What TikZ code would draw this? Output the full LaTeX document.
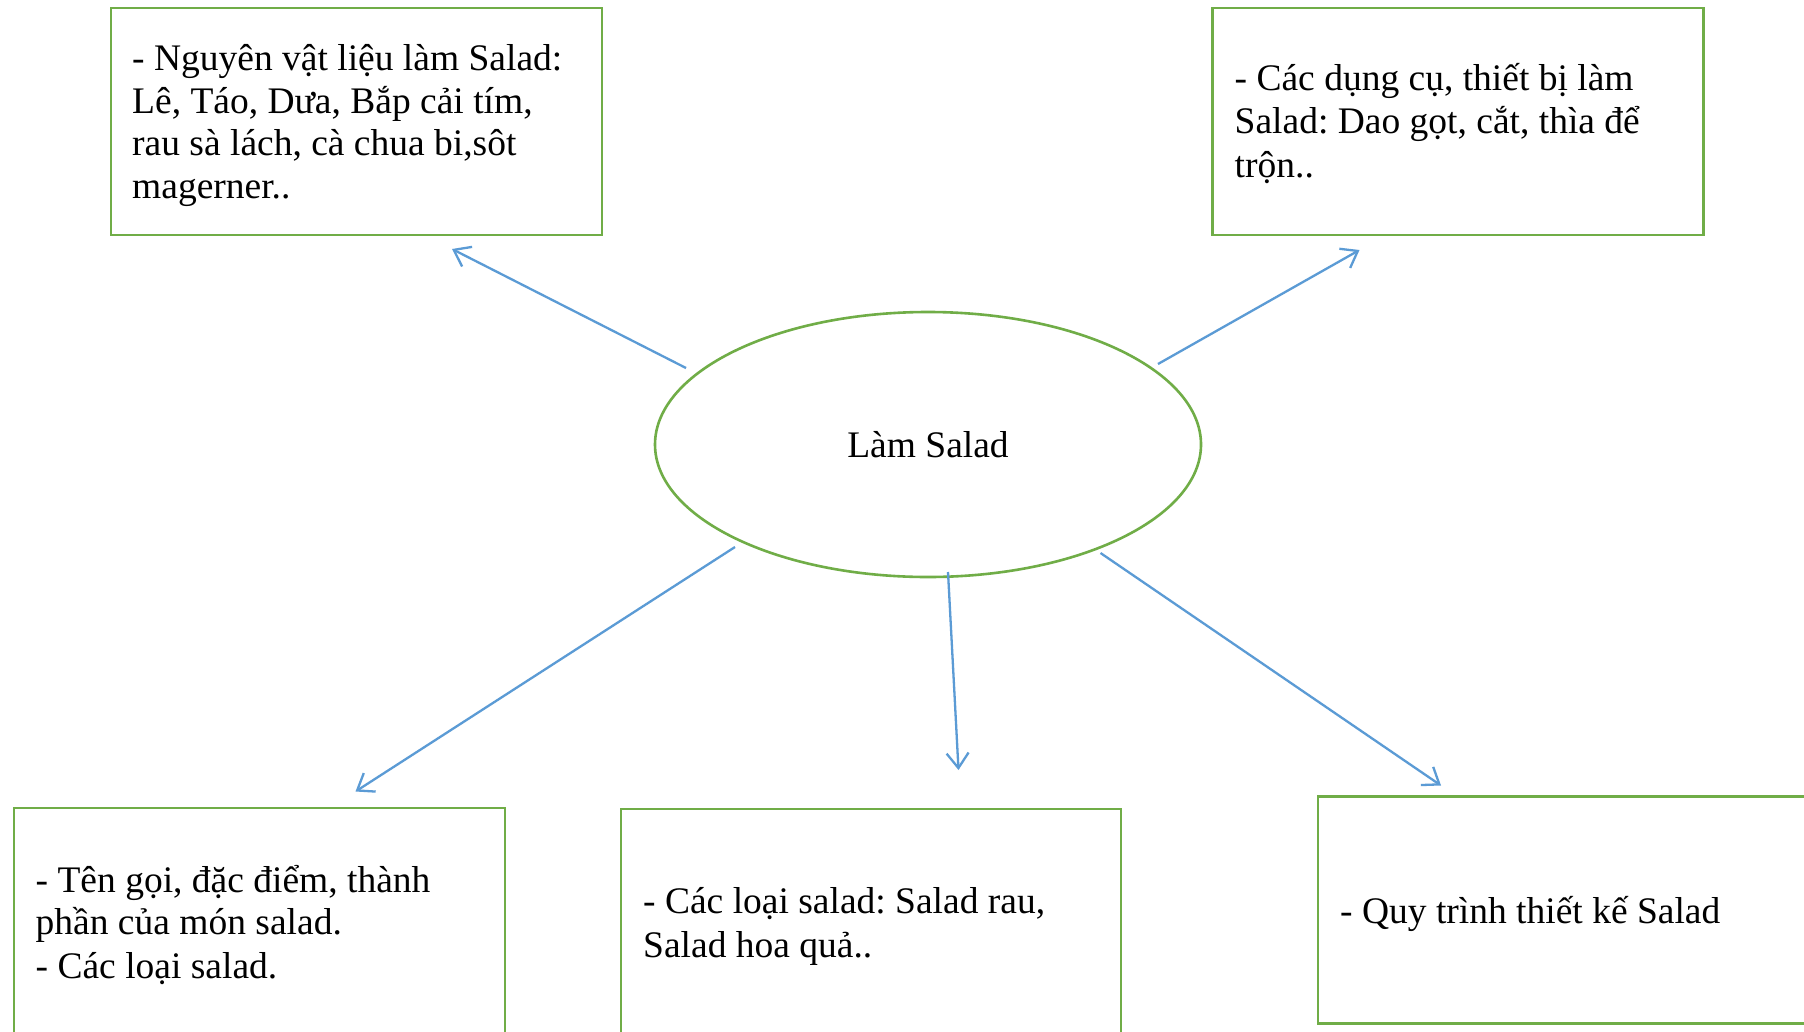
\documentclass[tikz,border=0pt]{standalone}
\usepackage{fontspec}
\setmainfont{Liberation Serif}
\usetikzlibrary{arrows.meta,shapes.geometric}
\definecolor{boxgreen}{HTML}{70AD47}
\definecolor{arrblue}{HTML}{5B9BD5}
\frenchspacing
\tikzset{
  framebox/.style={draw=boxgreen, line width=2.6pt, rectangle, inner sep=0pt, fill=none},
  centreoval/.style={draw=boxgreen, line width=2.6pt, ellipse, inner sep=0pt, minimum width=546pt, minimum height=265pt},
  txtline/.style={anchor=base west, inner sep=0pt, font=\fontsize{37.5}{43}\selectfont},
  link/.style={draw=arrblue, line width=2.3pt, -{Straight Barb[length=15pt,width=22pt,line width=2.3pt]}}
}
\begin{document}
\begin{tikzpicture}[x=1pt,y=-1pt]
\useasboundingbox (0,0) rectangle (1804,1031);
\clip (0,0) rectangle (1804,1031);
\fill[white] (0,0) rectangle (1804,1031);
% boxes
\node[framebox, minimum width=491pt, minimum height=227pt] (boxTL) at (356.5,121.5) {};
\node[framebox, minimum width=491pt, minimum height=227pt] (boxTR) at (1458,121.5) {};
\node[framebox, minimum width=491pt, minimum height=240pt] (boxBL) at (259.5,928) {};
\node[framebox, minimum width=500pt, minimum height=240pt] (boxBM) at (871,929) {};
\node[framebox, minimum width=520pt, minimum height=227pt] (boxBR) at (1578,910) {};
% centre
\node[centreoval, font=\fontsize{37.5}{43}\selectfont] (centre) at (928,444.5) {Làm Salad};
% texts
\node[txtline] (tl1) at (132,70) {- Nguyên vật liệu làm Salad:};
\node[txtline] (tl2) at (132,113) {Lê, Táo, Dưa, Bắp cải tím,};
\node[txtline] (tl3) at (132,155) {rau sà lách, cà chua bi,sôt};
\node[txtline] (tl4) at (132,198) {magerner..};
\node[txtline] (tr1) at (1234.5,90) {- Các dụng cụ, thiết bị làm};
\node[txtline] (tr2) at (1234.5,133) {Salad: Dao gọt, cắt, thìa để};
\node[txtline] (tr3) at (1234.5,177) {trộn..};
\node[txtline] (bl1) at (35.5,892) {- Tên gọi, đặc điểm, thành};
\node[txtline] (bl2) at (35.5,934) {phần của món salad.};
\node[txtline] (bl3) at (35.5,978) {- Các loại salad.};
\node[txtline] (bm1) at (643,913) {- Các loại salad: Salad rau,};
\node[txtline] (bm2) at (643,957) {Salad hoa quả..};
\node[txtline] (br1) at (1340,923) {- Quy trình thiết kế Salad};
% arrow end points
\coordinate (sTL) at (686,368);   \coordinate (eTL) at (452,249);
\coordinate (sTR) at (1158,364);  \coordinate (eTR) at (1359.5,250);
\coordinate (sBL) at (735,547);   \coordinate (eBL) at (355.5,791.5);
\coordinate (sBM) at (948,572);   \coordinate (eBM) at (958.5,770);
\coordinate (sBR) at (1100.5,553);\coordinate (eBR) at (1441,785.5);
\draw[link] (sTL) -- (eTL);
\draw[link] (sTR) -- (eTR);
\draw[link] (sBL) -- (eBL);
\draw[link] (sBM) -- (eBM);
\draw[link] (sBR) -- (eBR);
\end{tikzpicture}
\end{document}
